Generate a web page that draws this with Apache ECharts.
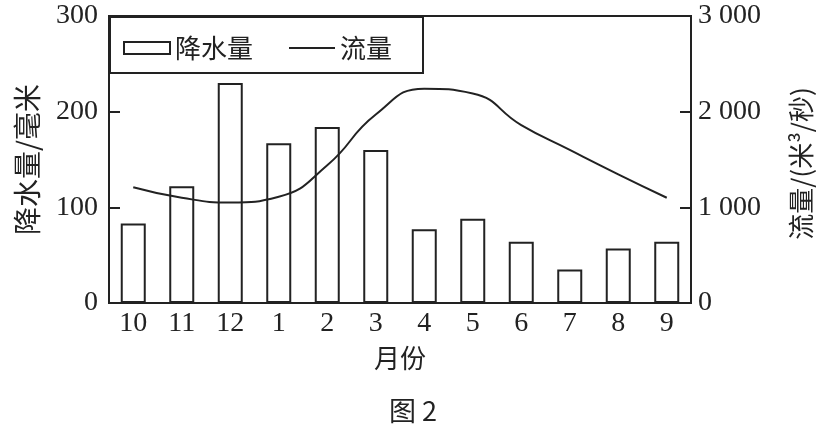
<!DOCTYPE html>
<html><head><meta charset="utf-8">
<script src="https://cdn.jsdelivr.net/npm/echarts@6/dist/echarts.min.js"></script>
<style>html,body{margin:0;padding:0;background:#fff}#c{width:826px;height:429px}</style>
</head><body><div id="c"></div>
<script>
const months = ['10','11','12','1','2','3','4','5','6','7','8','9'];
const precipitation = [83, 122, 230, 167, 184, 160, 77, 88, 64, 35, 57, 64];
const flow = [1210, 1100, 1050, 1110, 1440, 1970, 2240, 2190, 1860, 1600, 1345, 1100];
const serif = '"Liberation Serif","DejaVu Serif",serif';
const cjk = '"Noto Sans CJK SC","Liberation Serif",serif';
const ink = '#222';
const chart = echarts.init(document.getElementById('c'));
chart.setOption({
  backgroundColor: '#fff',
  animation: false,
  title: {
    text: '图 2', left: 'center', top: 392,
    textStyle: {fontFamily: cjk, fontSize: 27, fontWeight: 'normal', color: ink}
  },
  grid: {left: 109, right: 135, top: 16, bottom: 126, show: true, borderColor: ink, borderWidth: 2},
  legend: {
    left: 118, top: 30, itemGap: 36, itemWidth: 46, itemHeight: 12,
    textStyle: {fontFamily: cjk, fontSize: 26, color: ink},
    data: [
      {name: '降水量', icon: 'rect', itemStyle: {color: '#fff', borderColor: ink, borderWidth: 2}},
      {name: '流量', icon: 'path://M0,5 L46,5 L46,7 L0,7 Z', itemStyle: {color: ink}}
    ]
  },
  graphic: [{
    type: 'rect', left: 109, top: 16, z: 10,
    shape: {width: 313, height: 56},
    style: {fill: 'transparent', stroke: ink, lineWidth: 2}
  }],
  xAxis: {
    type: 'category', data: months, boundaryGap: true,
    name: '月份', nameLocation: 'middle', nameGap: 42,
    nameTextStyle: {fontFamily: cjk, fontSize: 26, color: ink},
    axisLine: {lineStyle: {color: ink, width: 2}},
    axisTick: {inside: true, length: 10, lineStyle: {color: ink, width: 2}},
    axisLabel: {fontFamily: serif, fontSize: 28, color: ink, margin: 7}
  },
  yAxis: [{
    type: 'value', min: 0, max: 300, interval: 100,
    name: '降水量/毫米', nameLocation: 'middle', nameGap: 68, nameRotate: 90,
    nameTextStyle: {fontFamily: cjk, fontSize: 28, color: ink},
    axisLine: {show: true, lineStyle: {color: ink, width: 2}},
    axisTick: {show: true, inside: true, length: 11, lineStyle: {color: ink, width: 2}},
    axisLabel: {fontFamily: serif, fontSize: 28, color: ink, margin: 11},
    splitLine: {show: false}
  }, {
    type: 'value', min: 0, max: 3000, interval: 1000, position: 'right',
    name: '流量/(米³/秒)', nameLocation: 'middle', nameGap: 97, nameRotate: 90,
    nameTextStyle: {fontFamily: cjk, fontSize: 26, color: ink, padding: [0, 8, 0, 0]},
    axisLine: {show: true, lineStyle: {color: ink, width: 2}},
    axisTick: {show: true, inside: true, length: 11, lineStyle: {color: ink, width: 2}},
    axisLabel: {fontFamily: serif, fontSize: 28, color: ink, margin: 7,
      formatter: v => v >= 1000 ? String(v).replace(/(\d)(\d{3})$/, '$1 $2') : String(v)},
    splitLine: {show: false}
  }],
  series: [{
    name: '降水量', type: 'bar', data: precipitation, yAxisIndex: 0, barWidth: 25,
    itemStyle: {color: '#fff', borderColor: ink, borderWidth: 2}
  }, {
    name: '流量', type: 'line', data: flow, yAxisIndex: 1, smooth: 0.5,
    symbol: 'none', lineStyle: {color: ink, width: 2}
  }]
});
</script></body></html>
